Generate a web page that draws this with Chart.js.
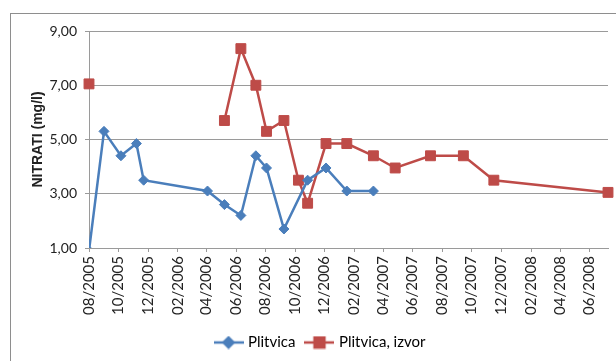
<!DOCTYPE html>
<html>
<head>
<meta charset="utf-8">
<script src="https://cdn.jsdelivr.net/npm/chart.js@4/dist/chart.umd.min.js"></script>
<style>
    body { margin: 0; background: #fff; overflow: hidden; }
    #frame { position: absolute; left: 10px; top: 13px; width: 700px; height: 420px; border: 1px solid #8e8e8e; }
    #wrap { position: absolute; left: 0; top: 0; width: 616px; height: 361px; }
</style>
</head>
<body>
<div id="frame"></div>
<div id="wrap"><canvas id="canvas"></canvas></div>
<script>
// nitrate measurements, mg/l (null = no sample, leaves a gap in the line)
const plitvicaDates = ['2005-08-01', '2005-09-01', '2005-10-06', '2005-11-07', '2005-11-22', '2006-04-03', '2006-05-08', '2006-06-11', '2006-07-12', '2006-08-03', '2006-09-08', '2006-10-27', '2006-12-04', '2007-01-16', '2007-03-12'];
const plitvicaValues = [0.9, 5.3, 4.4, 4.85, 3.5, 3.1, 2.6, 2.2, 4.4, 3.95, 1.7, 3.5, 3.95, 3.1, 3.1];

const izvorDates = ['2005-08-01', '2005-09-01', '2006-05-08', '2006-06-11', '2006-07-12', '2006-08-03', '2006-09-08', '2006-10-08', '2006-10-27', '2006-12-04', '2007-01-16', '2007-03-12', '2007-04-26', '2007-07-08', '2007-09-14', '2007-11-16', '2008-07-09'];
const izvorValues = [7.05, null, 5.7, 8.35, 7.0, 5.3, 5.7, 3.5, 2.65, 4.85, 4.85, 4.4, 3.95, 4.4, 4.4, 3.5, 3.05];

const xTickLabels = ['08/2005', '10/2005', '12/2005', '02/2006', '04/2006', '06/2006', '08/2006', '10/2006', '12/2006', '02/2007', '04/2007', '06/2007', '08/2007', '10/2007', '12/2007', '02/2008', '04/2008', '06/2008'];
const yTicks = [1, 3, 5, 7, 9];

const BLUE = '#4A7EBB';
const RED = '#BE4B48';
const GRID = '#9a9a9a';

const origin = Date.UTC(2005, 7, 1);
function dayOf(str) {
    const p = str.split('-').map(Number);
    return (Date.UTC(p[0], p[1] - 1, p[2]) - origin) / 86400000;
}
function labelDay(lbl) {
    const p = lbl.split('/').map(Number);
    return (Date.UTC(p[1], p[0] - 1, 1) - origin) / 86400000;
}
function points(dates, values) {
    return dates.map((d, i) => ({ x: dayOf(d), y: values[i] }));
}

// little line + marker picture for the legend
function legendIcon(color, style) {
    const c = document.createElement('canvas');
    c.width = 30;
    c.height = 14;
    const g = c.getContext('2d');
    g.strokeStyle = color;
    g.fillStyle = color;
    g.lineWidth = 2.5;
    g.beginPath();
    g.moveTo(0, 7);
    g.lineTo(30, 7);
    g.stroke();
    Chart.helpers.drawPoint(g, { pointStyle: style, radius: style === 'rect' ? 7 : 5, rotation: 0, borderWidth: 1 }, 15, 7);
    g.fill();
    return c;
}

const ctx = document.getElementById('canvas').getContext('2d');
const myChart = new Chart(ctx, {
    type: 'line',
    data: {
        datasets: [{
            label: 'Plitvica',
            data: points(plitvicaDates, plitvicaValues),
            borderColor: BLUE,
            backgroundColor: BLUE,
            borderWidth: 2.5,
            pointStyle: 'rectRot',
            pointRadius: 5,
            pointHoverRadius: 5,
            pointBorderWidth: 1,
            clip: 0
        }, {
            label: 'Plitvica, izvor',
            data: points(izvorDates, izvorValues),
            borderColor: RED,
            backgroundColor: RED,
            borderWidth: 2.5,
            pointStyle: 'rect',
            pointRadius: 7,
            pointHoverRadius: 7,
            pointBorderWidth: 1,
            spanGaps: false,
            clip: false
        }]
    },
    options: {
        responsive: true,
        maintainAspectRatio: false,
        animation: false,
        layout: { padding: { left: 30, top: 31, right: 4, bottom: 1 } },
        plugins: {
            tooltip: { enabled: false },
            legend: {
                position: 'bottom',
                labels: {
                    usePointStyle: true,
                    pointStyleWidth: 24,
                    padding: 12,
                    color: '#222',
                    font: { family: 'Lato', size: 15 },
                    generateLabels: chart => chart.data.datasets.map((ds, i) => ({
                        text: ds.label,
                        datasetIndex: i,
                        pointStyle: legendIcon(ds.borderColor, ds.pointStyle),
                        fillStyle: ds.borderColor,
                        strokeStyle: ds.borderColor,
                        lineWidth: 0,
                        hidden: false
                    }))
                }
            }
        },
        scales: {
            x: {
                type: 'linear',
                min: 0,
                max: dayOf(izvorDates[izvorDates.length - 1]),
                afterBuildTicks: scale => {
                    scale.ticks = xTickLabels.map(l => ({ value: labelDay(l), label: l }));
                },
                afterFit: scale => { scale.height = 75; },
                ticks: {
                    autoSkip: false,
                    minRotation: 90,
                    maxRotation: 90,
                    padding: 4,
                    color: '#222',
                    font: { family: 'Lato', size: 15 },
                    callback: (v, i) => xTickLabels[i]
                },
                grid: { drawOnChartArea: false, tickLength: 4, color: GRID },
                border: { color: GRID }
            },
            y: {
                min: 1,
                max: 9,
                afterBuildTicks: scale => {
                    scale.ticks = yTicks.map(v => ({ value: v }));
                },
                afterFit: scale => { scale.width = 59; },
                ticks: {
                    padding: 8,
                    color: '#222',
                    font: { family: 'Lato', size: 14 },
                    callback: v => v.toFixed(2).replace('.', ',')
                },
                grid: { color: GRID, tickLength: 4 },
                border: { color: GRID },
                title: {
                    display: true,
                    text: 'NITRATI (mg/l)',
                    color: '#222',
                    padding: 0,
                    font: { family: 'Liberation Sans', size: 14, weight: 'bold' }
                }
            }
        }
    }
});
</script>
</body>
</html>
